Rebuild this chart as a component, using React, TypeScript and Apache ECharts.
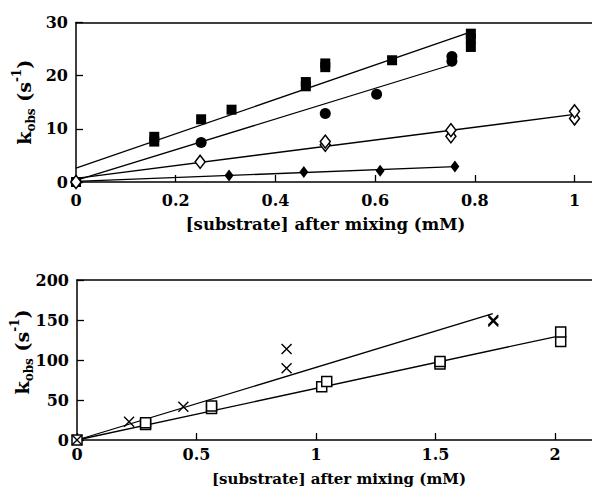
import React, { useEffect, useRef } from 'react';
import * as echarts from 'echarts';

const FONT = '"DejaVu Serif", "Liberation Serif", serif';

// ---------- top panel ----------
const topXTicks = [0, 0.2, 0.4, 0.6, 0.8, 1];
const topYTicks = [0, 10, 20, 30];
const topFilledSquares = [[0, 0], [0.157, 7.6], [0.157, 8.5], [0.251, 11.8], [0.312, 13.6], [0.461, 18.0], [0.461, 18.8], [0.5, 21.6], [0.5, 22.3], [0.634, 22.9], [0.792, 25.4], [0.792, 27.0], [0.792, 27.9]];
const topFilledCircles = [[0, 0], [0.251, 7.45], [0.5, 12.9], [0.603, 16.5], [0.754, 22.7], [0.754, 23.6]];
const topOpenDiamonds = [[0, 0], [0.249, 3.8], [0.5, 7.0], [0.5, 7.6], [0.752, 8.6], [0.752, 9.75], [1.0, 11.95], [1.0, 13.3]];
const topFilledDiamonds = [[0, 0], [0.307, 1.2], [0.457, 1.9], [0.61, 2.1], [0.76, 2.9]];
const topSquareFit = [[0, 2.6], [0.785, 28.0]];
const topCircleFit = [[0, 0.3], [0.755, 22.1]];
const topOpenDiamondFit = [[0, 0.7], [1.0, 12.7]];
const topFilledDiamondFit = [[0, 0.1], [0.76, 2.9]];

// ---------- bottom panel ----------
const botXTicks = [0, 0.5, 1, 1.5, 2];
const botYTicks = [0, 50, 100, 150, 200];
const botCrosses = [[0, 0], [0.218, 22.9], [0.445, 41.6], [0.877, 89.6], [0.877, 113.7], [1.742, 148], [1.742, 150]];
const botOpenSquares = [[0, 0], [0.287, 19.5], [0.287, 21.5], [0.563, 39.5], [0.563, 42.5], [1.024, 66.7], [1.045, 73], [1.519, 95], [1.519, 98], [2.024, 123], [2.024, 135]];
const botCrossFit = [[0, 0], [1.74, 158]];
const botSquareFit = [[0, 0], [2.0, 129]];

const xTitle = '[substrate] after mixing (mM)';
const yTitle = '{k|k}{sub|obs}{k| (s}{sup|-1}{k|)}';

const BLACK = '#000';

function yName(gap: number, pad: number[]) {
  return {
    name: yTitle,
    nameLocation: 'middle' as const,
    nameRotate: 90,
    nameGap: gap,
    nameMoveOverlap: false,
    nameTextStyle: {
      padding: pad,
      rich: {
        k: { fontSize: 19, fontFamily: FONT, fontWeight: 'bold', color: BLACK, lineHeight: 26, verticalAlign: 'middle' },
        sub: { fontSize: 12, fontFamily: FONT, fontWeight: 'bold', color: BLACK, lineHeight: 12, verticalAlign: 'bottom' },
        sup: { fontSize: 12, fontFamily: FONT, fontWeight: 'bold', color: BLACK, lineHeight: 12, verticalAlign: 'top' },
      },
    },
  };
}

function labelStyle(margin: number, ticks: number[]) {
  return { customValues: ticks, margin, fontSize: 16, fontWeight: 'bold', fontFamily: FONT, color: BLACK, formatter: (v: number) => String(v) };
}

function xAxisMain(grid: number, max: number, ticks: number[], margin: number, gap: number, fs: number, pad: number[]) {
  return {
    type: 'value', gridIndex: grid, min: 0, max, position: 'bottom',
    axisLine: { show: true, onZero: false, lineStyle: { color: BLACK, width: 1.5 } },
    axisTick: { show: true, inside: true, length: 7, customValues: ticks, lineStyle: { color: BLACK, width: 1.3 } },
    axisLabel: labelStyle(margin, ticks),
    splitLine: { show: false },
    name: xTitle, nameLocation: 'middle', nameGap: gap, nameMoveOverlap: false,
    nameTextStyle: { fontSize: fs, fontWeight: 'bold', fontFamily: FONT, color: BLACK, padding: pad },
  };
}

function xAxisTop(grid: number, max: number) {
  return {
    type: 'value', gridIndex: grid, min: 0, max, position: 'top',
    axisLine: { show: true, onZero: false, lineStyle: { color: BLACK, width: 1.5 } },
    axisTick: { show: false }, axisLabel: { show: false }, splitLine: { show: false },
  };
}

function yAxis(grid: number, max: number, interval: number, ticks: number[], gap: number, pad: number[]) {
  return {
    type: 'value', gridIndex: grid, min: 0, max, interval,
    axisLine: { show: true, onZero: false, lineStyle: { color: BLACK, width: 1.5 } },
    axisTick: { show: true, inside: true, length: 7, lineStyle: { color: BLACK, width: 1.3 } },
    axisLabel: labelStyle(8, ticks),
    splitLine: { show: false },
    ...yName(gap, pad),
  };
}

function scatter(data: number[][], xi: number, yi: number, symbol: string, size: any, fill: string, z: number) {
  return {
    type: 'scatter', data, xAxisIndex: xi, yAxisIndex: yi, symbol, symbolSize: size, clip: false, z,
    itemStyle: { color: fill, borderColor: BLACK, borderWidth: fill === '#fff' ? 1.5 : 0, opacity: 1 },
  };
}

function crossScatter(data: number[][], xi: number, yi: number, z: number) {
  return {
    type: 'scatter', data, xAxisIndex: xi, yAxisIndex: yi, symbol: 'path://M0,0L10,10M10,0L0,10', symbolSize: 10, clip: false, z,
    itemStyle: { color: 'none', borderColor: BLACK, borderWidth: 1.4, opacity: 1 },
  };
}

function fit(data: number[][], xi: number, yi: number) {
  return {
    type: 'line', data, xAxisIndex: xi, yAxisIndex: yi, symbol: 'none', clip: false, z: 2,
    lineStyle: { color: BLACK, width: 1.3 },
  };
}

export default function App() {
  const ref = useRef<HTMLDivElement>(null);
  useEffect(() => {
    if (!ref.current) return;
    const chart = echarts.init(ref.current, null, { renderer: 'svg' });
    chart.setOption({
      animation: false,
      backgroundColor: '#fff',
      grid: [
        { left: 76, top: 22.5, width: 516, height: 159.5, containLabel: false, outerBoundsMode: 'none' },
        { left: 77, top: 280, width: 515, height: 160, containLabel: false, outerBoundsMode: 'none' },
      ],
      xAxis: [
        xAxisMain(0, 1.035, topXTicks, 10, 34, 16.5, [0, 17, 0, 0]),
        xAxisTop(0, 1.035),
        xAxisMain(1, 2.155, botXTicks, 6, 31, 15, [0, 0, 0, 9]),
        xAxisTop(1, 2.155),
      ],
      yAxis: [
        yAxis(0, 30, 10, topYTicks, 39, [0, 0, 0, 0]),
        yAxis(1, 200, 50, botYTicks, 42, [0, 0, 0, 16]),
      ],
      series: [
        fit(topSquareFit, 0, 0),
        fit(topCircleFit, 0, 0),
        fit(topOpenDiamondFit, 0, 0),
        fit(topFilledDiamondFit, 0, 0),
        scatter(topFilledSquares, 0, 0, 'rect', 10, BLACK, 3),
        scatter(topFilledCircles, 0, 0, 'circle', 11, BLACK, 3),
        scatter(topFilledDiamonds, 0, 0, 'diamond', [9, 12], BLACK, 3),
        scatter(topOpenDiamonds, 0, 0, 'diamond', [10, 13], '#fff', 4),
        fit(botCrossFit, 2, 1),
        fit(botSquareFit, 2, 1),
        scatter(botOpenSquares, 2, 1, 'rect', 10, '#fff', 3),
        crossScatter(botCrosses, 2, 1, 4),
      ],
    });
    return () => chart.dispose();
  }, []);
  return <div ref={ref} style={{ position: 'fixed', left: 0, top: 0, width: 592, height: 487 }} />;
}
